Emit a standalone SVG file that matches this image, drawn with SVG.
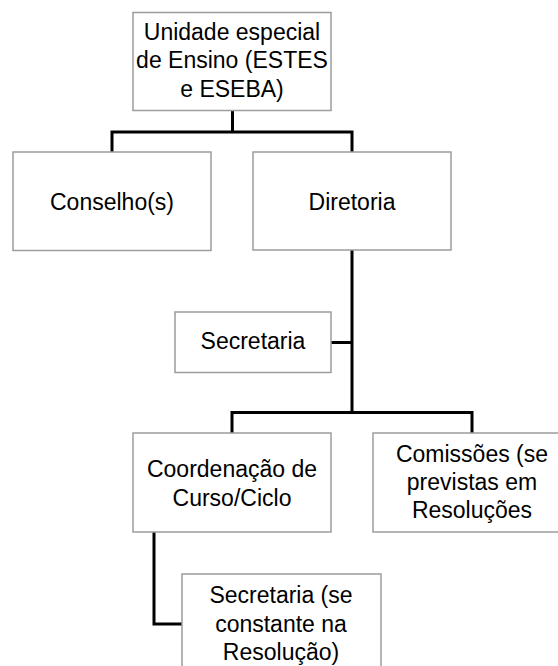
<svg xmlns="http://www.w3.org/2000/svg" width="558" height="666" viewBox="0 0 558 666">
<style>
.box{fill:#fff;stroke:#9c9c9c;stroke-width:1.5}
.lbl{font-family:"Liberation Sans",Arial,sans-serif;font-size:23px;fill:#000;text-anchor:middle}
.conn{fill:none;stroke:#000;stroke-width:3;stroke-linejoin:miter}
</style>
<rect width="558" height="666" fill="#fff"/>
<g id="connectors">
<path class="conn" d="M232.5,110.7 V132 M112,152 V132 H352 V152"/>
<path class="conn" d="M352,250 V412.5 M331,342.5 H352 M232,433 V412.5 H472 V433"/>
<path class="conn" d="M154,532 V624 H182"/>
</g>
<g id="n-unidade">
<rect class="box" x="133" y="12.5" width="198" height="98"/>
<text class="lbl" x="232" y="39.5">Unidade especial</text>
<text class="lbl" x="232" y="68.3">de Ensino (ESTES</text>
<text class="lbl" x="232" y="97">e ESEBA)</text>
</g>
<g id="n-conselho">
<rect class="box" x="13" y="152" width="198" height="98.5"/>
<text class="lbl" x="112" y="210">Conselho(s)</text>
</g>
<g id="n-diretoria">
<rect class="box" x="253" y="152" width="198" height="98"/>
<text class="lbl" x="352" y="210">Diretoria</text>
</g>
<g id="n-secretaria">
<rect class="box" x="175" y="312" width="156" height="60.5"/>
<text class="lbl" x="253" y="349.3">Secretaria</text>
</g>
<g id="n-coordenacao">
<rect class="box" x="133" y="433" width="198" height="99"/>
<text class="lbl" x="232" y="476.5">Coordenação de</text>
<text class="lbl" x="232" y="505.5">Curso/Ciclo</text>
</g>
<g id="n-comissoes">
<rect class="box" x="373" y="433" width="198" height="99"/>
<text class="lbl" x="472" y="461.7">Comissões (se</text>
<text class="lbl" x="472" y="490">previstas em</text>
<text class="lbl" x="472" y="518.3">Resoluções</text>
</g>
<g id="n-secretaria2">
<rect class="box" x="182" y="574" width="199" height="99"/>
<text class="lbl" x="281" y="603.3">Secretaria (se</text>
<text class="lbl" x="281" y="631.7">constante na</text>
<text class="lbl" x="281" y="660">Resolução)</text>
</g>
</svg>
